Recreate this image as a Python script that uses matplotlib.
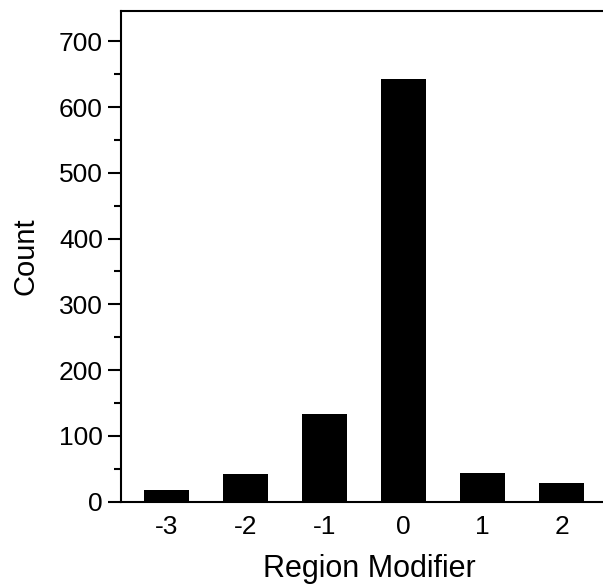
import matplotlib
matplotlib.use('Agg')
import matplotlib.pyplot as plt
import matplotlib.ticker as ticker

# values
modifiers = [-3, -2, -1, 0, 1, 2]
counts = [18, 42, 133, 642, 44, 28]

plt.rcParams['font.family'] = ['Liberation Sans', 'DejaVu Sans']
plt.rcParams['axes.unicode_minus'] = False

fig = plt.figure(figsize=(6.03, 5.85), dpi=100)
ax = fig.add_axes([121 / 603, 83.3 / 585, (603 - 121) / 603, (574 - 83.3) / 585])

ax.bar(modifiers, counts, width=0.57, color='black')

ax.set_xlim(-3.576, 2.525)
ax.set_ylim(0, 746)
ax.set_xticks(modifiers)
ax.yaxis.set_major_locator(ticker.MultipleLocator(100))
ax.yaxis.set_minor_locator(ticker.MultipleLocator(50))

for s in ['left', 'bottom', 'top']:
    ax.spines[s].set_linewidth(1.5)
ax.spines['right'].set_visible(False)

ax.tick_params(axis='y', which='major', length=9.5, width=1.5, labelsize=19, pad=3.5)
ax.tick_params(axis='y', which='minor', length=5, width=1.5)
ax.tick_params(axis='x', which='major', length=0, labelsize=19, pad=9.5)

ax.set_xlabel('Region Modifier', fontsize=22)
ax.xaxis.set_label_coords(0.516, -0.106, transform=ax.transAxes)
ax.xaxis.label.set_va('top')
ax.set_ylabel('Count', fontsize=21, labelpad=14)

fig.savefig('out.png', dpi=100)
